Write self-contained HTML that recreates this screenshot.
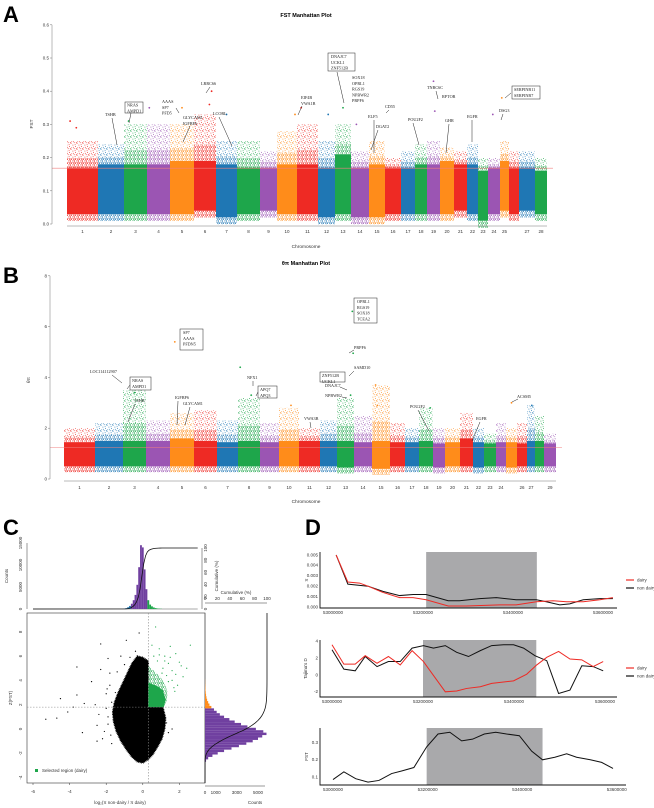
<!DOCTYPE html>
<html><head><meta charset="utf-8"><style>
html,body{margin:0;padding:0;background:#fff;}
svg{display:block;font-family:"Liberation Sans",sans-serif;}
.tk{font-size:4.5px;fill:#333;}
.an{font-family:"Liberation Serif",serif;font-size:4.2px;fill:#222;}
</style></head><body>
<svg id="fig" width="654" height="808" viewBox="0 0 654 808" xmlns="http://www.w3.org/2000/svg">
<defs id="defs"></defs>
<text x="3" y="22" font-size="22" font-weight="bold">A</text>
<text x="3" y="283" font-size="22" font-weight="bold">B</text>
<text x="3" y="535" font-size="22" font-weight="bold">C</text>
<text x="305" y="535" font-size="22" font-weight="bold">D</text>
<text x="306" y="17" font-size="5.5" font-weight="bold" text-anchor="middle">FST Manhattan Plot</text>
<text x="306" y="265" font-size="5.5" font-weight="bold" text-anchor="middle">θπ Manhattan Plot</text>
<text x="306" y="248" font-size="4.8" text-anchor="middle" fill="#333">Chromosome</text>
<text x="306" y="503" font-size="4.8" text-anchor="middle" fill="#333">Chromosome</text>
<text x="33" y="124" font-size="4.8" fill="#333" transform="rotate(-90 33 124)" text-anchor="middle">FST</text>
<text x="30" y="380" font-size="4.8" fill="#333" transform="rotate(-90 30 380)" text-anchor="middle">θπ</text>
</svg>
<script>
// ---------- Panel A / B data ----------
const chromLenA=[31,26,23,23,24,22,21,23,17,20,21,17,16,18,16,16,14,12,13,14,13,11,10,12,9,10,16,12];
const denseLoA=[0.03,0.03,0.03,0.03,0.03,0.04,0.02,0.03,0.04,0.03,0.03,0.02,0.03,0.02,0.02,0.03,0.03,0.03,0.03,0.03,0.04,0.03,0.01,0.03,0.04,0.03,0.04,0.03];
const denseHiA=[0.17,0.18,0.18,0.18,0.19,0.19,0.18,0.17,0.17,0.18,0.18,0.17,0.21,0.17,0.18,0.17,0.17,0.18,0.18,0.19,0.18,0.18,0.16,0.17,0.19,0.17,0.17,0.16];
const sparseMaxA=[0.25,0.24,0.30,0.30,0.30,0.33,0.25,0.25,0.22,0.28,0.30,0.25,0.30,0.22,0.25,0.20,0.22,0.24,0.25,0.23,0.22,0.24,0.20,0.20,0.25,0.22,0.22,0.20];
const outChrA=[1,1,3,4,5,6,6,10,11,13,14,19,19,25,24,12,7];
const outFracA=[0.1,0.3,0.2,0.1,0.5,0.7,0.8,0.9,0.2,0.5,0.3,0.5,0.6,0.2,0.4,0.6,0.5];
const outValA=[0.31,0.29,0.31,0.35,0.35,0.36,0.40,0.33,0.35,0.35,0.30,0.43,0.34,0.38,0.33,0.33,0.33];
const yTicksA=[0,0.1,0.2,0.3,0.4,0.5,0.6];
const yTickLabA=["0.0","0.1","0.2","0.3","0.4","0.5","0.6"];
const thresholdA=0.168;

const chromLenB=[31,28,23,24,24,23,21,22,19,20,21,17,17,18,18,15,14,14,12,15,13,11,12,10,11,10,8,9,12];
const denseLoB=[0.5,0.5,0.5,0.5,0.5,0.5,0.5,0.5,0.5,0.5,0.5,0.5,0.45,0.5,0.4,0.5,0.5,0.5,0.45,0.5,0.5,0.45,0.5,0.5,0.45,0.5,0.5,0.5,0.5];
const denseHiB=[1.45,1.5,1.5,1.5,1.6,1.5,1.45,1.5,1.45,1.5,1.5,1.5,1.5,1.45,1.5,1.45,1.45,1.5,1.4,1.45,1.6,1.45,1.4,1.45,1.45,1.4,1.5,1.5,1.4];
const sparseMaxB=[2.0,2.2,3.5,2.3,2.6,2.7,2.3,3.2,2.2,2.8,2.0,2.3,3.2,2.5,3.7,2.2,2.0,2.8,2.0,2.0,2.6,2.0,1.8,2.2,2.0,2.2,2.9,2.5,1.8];
const outChrB=[5,8,13,13,15,15,10,3,8,13,18,25,27];
const outFracB=[0.2,0.1,0.9,0.95,0.2,0.3,0.6,0.5,0.6,0.8,0.8,0.5,0.6];
const outValB=[5.4,4.4,6.6,4.95,3.7,2.9,2.9,3.4,3.3,3.3,2.8,3.0,2.9];
const yTicksB=[0,2,4,6,8];
const yTickLabB=["0","2","4","6","8"];
const thresholdB=1.25;

// ---------- Panel C data ----------
const histXCenters=[-1.0,-0.9,-0.8,-0.7,-0.6,-0.5,-0.4,-0.3,-0.2,-0.1,0.0,0.1,0.2,0.3,0.4,0.5,0.6,0.7,0.8,0.9,1.0];
const histXCounts=[100,200,400,700,1200,2000,3200,5500,9500,14500,14000,9000,4500,2000,1000,600,350,200,120,80,50];
const histYCenters=[-2.6,-2.4,-2.2,-2.0,-1.8,-1.6,-1.4,-1.2,-1.0,-0.8,-0.6,-0.4,-0.2,0.0,0.2,0.4,0.6,0.8,1.0,1.2,1.4,1.6,1.8,2.0,2.2,2.4,2.6,2.8,3.0,3.2,3.4,3.6,3.8,4.0];
const histYCounts=[100,300,700,1200,1800,2500,3200,3900,4500,5000,5400,5800,5500,4800,4000,3400,2800,2300,1800,1400,1100,850,600,420,300,200,140,100,70,50,35,25,15,10];
const blobX=[-0.3,0.0,0.3,0.3,1.1,1.25,1.2,1.05,0.8,0.55,0.3,0.0,-0.3,-0.6,-0.9,-1.2,-1.45,-1.6,-1.65,-1.55,-1.35,-1.1,-0.85,-0.6];
const blobY=[6.0,5.9,5.6,1.8,1.8,0.9,0.0,-0.8,-1.5,-2.1,-2.5,-2.8,-2.7,-2.3,-1.7,-1.0,-0.2,0.6,1.4,2.2,3.0,3.8,4.6,5.4];
const greenX=[0.3,1.15,1.3,1.35,1.2,0.95,0.6,0.3];
const greenY=[1.8,1.8,2.3,3.0,3.7,4.3,4.8,5.2];
const blackPtX=[-5.3,-4.7,-4.1,-3.6,-3.3,-2.5,-2.8,-2.3,-2.3,-1.8,-2,-1.5,-0.9,-3.8,-2.5,-3.2,-1.7,1.6,-4.5,-1.9,-0.2,-0.4,-1.2,-3.6,-2.1,-1.9,-1.7,-2.2,-1.8,-1.9,-2.0,-1.75,-1.0,-0.7,-1.4,1.3,1.4,-2.4,-2.6,-1.95];
const blackPtY=[0.8,0.9,1.4,5.1,-0.3,-1,3.9,7,4.9,4.6,2.9,3,7.3,1.8,0.3,2.1,-1.2,0,2.5,5.8,7.9,6.4,6,2.8,-0.2,1.0,2.2,-0.8,3.6,0.4,1.7,-0.5,5.3,5.9,4.7,0.5,-0.3,1.2,2.0,3.3];
const greenPtX=[0.7,2.0,1.8,1.5,2.6,1.4,1.8,1.2,0.9,1.1,1.6,0.5,2.2,1.3,1.7,1.0,1.5,1.9,0.8,1.4,2.1,1.6,1.2,0.9,0.6,1.75,2.4,1.05];
const greenPtY=[8.4,5.5,6.2,6.8,6.9,5.4,4.5,6.0,6.6,5.0,4.0,6.9,4.3,4.4,3.4,3.8,5.9,3.6,5.6,3.9,5.2,4.8,5.6,6.1,6.0,3.1,5.0,4.6];
const cutX=0.3, cutY=1.8;

// ---------- Panel D data ----------
const piNonPos=[53.007,53.033,53.078,53.111,53.148,53.178,53.207,53.256,53.281,53.326,53.363,53.407,53.452,53.474,53.504,53.526,53.556,53.593,53.622];
const piNonVal=[0.0050,0.0022,0.0020,0.0015,0.0011,0.0012,0.0012,0.0006,0.0006,0.0008,0.0009,0.0007,0.0007,0.0005,0.0002,0.0003,0.0007,0.0008,0.0008];
const piDairyPos=[53.007,53.033,53.059,53.078,53.111,53.148,53.178,53.207,53.256,53.296,53.370,53.407,53.452,53.489,53.519,53.556,53.593,53.622];
const piDairyVal=[0.0050,0.0024,0.0023,0.0020,0.0014,0.0009,0.0009,0.0007,0.0001,0.0001,0.0002,0.0002,0.0005,0.0006,0.0005,0.0005,0.0007,0.0009];
const piShade=[53.207,53.453];
const tdDairyPos=[53.0,53.026,53.051,53.073,53.099,53.124,53.150,53.176,53.201,53.249,53.274,53.296,53.326,53.351,53.399,53.428,53.450,53.472,53.498,53.523,53.549,53.574,53.596];
const tdDairyVal=[3.6,1.3,1.3,2.3,1.4,2.2,1.2,2.9,1.6,-2.0,-1.9,-1.6,-1.4,-1.0,-0.7,0.1,1.2,2.1,2.8,1.9,1.8,1.0,1.6];
const tdNonPos=[53.0,53.026,53.051,53.073,53.099,53.124,53.150,53.176,53.201,53.223,53.249,53.274,53.300,53.326,53.351,53.377,53.399,53.421,53.446,53.472,53.498,53.523,53.549,53.574,53.596];
const tdNonVal=[3.0,0.7,0.5,2.2,1.0,1.6,1.6,3.2,3.5,3.2,3.5,2.7,2.2,2.9,3.5,3.6,3.6,3.2,2.3,1.7,-2.2,-1.8,1.1,1.0,0.5];
const tdShade=[53.200,53.449];
const fstPos=[53.0,53.023,53.048,53.074,53.097,53.124,53.145,53.171,53.198,53.222,53.247,53.272,53.295,53.320,53.344,53.367,53.394,53.420,53.443,53.469,53.494,53.515,53.544,53.568,53.592];
const fstVal=[0.085,0.13,0.09,0.07,0.08,0.12,0.135,0.155,0.275,0.35,0.36,0.31,0.32,0.35,0.36,0.35,0.34,0.25,0.20,0.215,0.235,0.215,0.20,0.185,0.15];
const fstShade=[53.198,53.443];
const dXTicks=[53.0,53.2,53.4,53.6];
const dXTickLab=["53000000","53200000","53400000","53600000"];

const COLORS=["#ee2a24","#1f77b4","#1ea64b","#9b55b3","#ff8c1a"];
const NS="http://www.w3.org/2000/svg";
const svg=document.getElementById("fig");
const defs=document.getElementById("defs");
function mk(tag,a,p){const e=document.createElementNS(NS,tag);for(const k in a)e.setAttribute(k,a[k]);(p||svg).appendChild(e);return e;}
function tx(x,y,s,a,p){const t=mk("text",Object.assign({x:x,y:y},a||{}),p);t.textContent=s;return t;}

// speckle patterns (texture only)
const speck=[[0.5,0.7],[3.2,2.1],[1.8,4.3],[4.6,5.2],[2.7,0.3],[5.4,3.4],[0.9,2.9],[3.9,4.0]];
COLORS.forEach((c,i)=>{
  const pt=mk("pattern",{id:"spk"+i,width:6,height:6,patternUnits:"userSpaceOnUse"},defs);
  speck.forEach(s=>{mk("rect",{x:s[0],y:s[1],width:0.8,height:0.8,fill:c},pt);});
  const pd=mk("pattern",{id:"spd"+i,width:4,height:4,patternUnits:"userSpaceOnUse"},defs);
  speck.forEach(s=>{mk("rect",{x:s[0]*0.66,y:s[1]*0.66,width:0.9,height:0.9,fill:c},pd);});
});

function manhattan(o){
  const g=mk("g",{});
  
  
  const total=o.lens.reduce((a,b)=>a+b,0), k=(o.x1-o.x0)/total;
  const Y=v=>o.y0-v*o.ppu;
  const starts=[];let cx=o.x0;
  o.lens.forEach((L,i)=>{
    const w=L*k, col=COLORS[i%5];starts.push(cx);
    const mid=o.hi[i]+(o.max[i]-o.hi[i])*0.35;
    const s1=mk("rect",{x:cx,y:Y(o.max[i]),width:w,height:Y(mid)-Y(o.max[i]),fill:"url(#spk"+(i%5)+")"},g);
    
    
    const s2=mk("rect",{x:cx,y:Y(mid),width:w,height:Y(o.hi[i])-Y(mid),fill:"url(#spd"+(i%5)+")"},g);
    
    
    const d=mk("rect",{x:cx,y:Y(o.hi[i]),width:w,height:Y(o.lo[i])-Y(o.hi[i]),fill:col},g);
    
    
    const lw=mk("rect",{x:cx,y:Y(o.lo[i]),width:w,height:o.lowPad,fill:"url(#spd"+(i%5)+")"},g);
    
    
    if(o.hide.indexOf(i+1)<0){
      const l=tx(cx+w/2,o.labY,String(i+1),{"class":"tk","text-anchor":"middle"},g);
      
      
    }
    cx+=w;
  });
  o.oc.forEach((c,j)=>{
    const p=mk("circle",{cx:starts[c-1]+o.of[j]*o.lens[c-1]*k,cy:Y(o.ov[j]),r:0.9,fill:COLORS[(c-1)%5]},g);
    
    
  });
  const th=mk("line",{x1:o.ax,x2:o.x1+6,y1:Y(o.th),y2:Y(o.th),stroke:"#f08080","stroke-width":0.6},g);
  
  
  const ya=mk("line",{x1:o.ax,x2:o.ax,y1:Y(o.ticks[o.ticks.length-1]),y2:Y(0),stroke:"#777","stroke-width":0.5},g);
  
  
  o.ticks.forEach((t,j)=>{
    const tl=mk("line",{x1:o.ax-2,x2:o.ax,y1:Y(t),y2:Y(t),stroke:"#777","stroke-width":0.5},g);
    
    
    const lb=tx(o.ax-3,Y(t)+1.5,o.tlab[j],{"class":"tk","text-anchor":"end"},g);
    
    
  });
  const xa=mk("line",{x1:o.x0,x2:o.x1,y1:Y(0)+2,y2:Y(0)+2,stroke:"#777","stroke-width":0.5},g);
  
  
}
manhattan({name:"fst-manhattan",lens:chromLenA,lo:denseLoA,hi:denseHiA,max:sparseMaxA,oc:outChrA,of:outFracA,ov:outValA,x0:67,x1:547,ax:52,y0:224,ppu:332,lowPad:7,labY:233,hide:[26],ticks:yTicksA,tlab:yTickLabA,th:thresholdA});
manhattan({name:"pi-manhattan",lens:chromLenB,lo:denseLoB,hi:denseHiB,max:sparseMaxB,oc:outChrB,of:outFracB,ov:outValB,x0:64,x1:556,ax:50,y0:479,ppu:25.4,lowPad:6,labY:489,hide:[25,28],ticks:yTicksB,tlab:yTickLabB,th:thresholdB});

// annotations (layout only)
const annotA=[
 {t:["TSHB"],x:105,y:116,l:[112,118,117,145]},
 {t:["NRAS","AMPD1"],x:127,y:106.5,box:[125,102,18,11],l:[131,113,129,123]},
 {t:["AAAS","SP7","PFD5"],x:162,y:103,l:[176,108,179,113]},
 {t:["GLYCAM1","IGFBP6"],x:183,y:119,l:[190,126,183,142]},
 {t:["LRRC66"],x:201,y:85,l:[210,87,206,93]},
 {t:["LCORL"],x:213,y:115,l:[219,117,232,146]},
 {t:["EIF4B","VWA1B"],x:301,y:99,l:[302,106,298,115]},
 {t:["DNAJC7","UCKL1","ZNF512B"],x:331,y:58,box:[328,53,27,18],l:[337,72,344,103]},
 {t:["SOX18","OPRL1","RGS19","NPBWR2","PRPF6"],x:352,y:79},
 {t:["CD55"],x:385,y:108,l:[389,110,386,113]},
 {t:["ELF5"],x:368,y:118,l:[374,120,374,153]},
 {t:["DGAT2"],x:376,y:128,l:[378,130,371,150]},
 {t:["POU2F2"],x:408,y:121,l:[413,123,419,145]},
 {t:["TNRC6C"],x:427,y:89,l:[436,91,438,99]},
 {t:["RPTOR"],x:442,y:98},
 {t:["GHR"],x:445,y:122,l:[449,124,446,153]},
 {t:["EGFR"],x:467,y:118,l:[472,120,472,142]},
 {t:["SERPINB11","SERPINB7"],x:514,y:91,box:[512,86,28,13],l:[511,93,505,98]},
 {t:["DSG3"],x:499,y:112,l:[503,114,501,120]}
];
const annotB=[
 {t:["LOC114112907"],x:90,y:373,l:[112,375,122,383]},
 {t:["NRAS","AMPD1"],x:132,y:382,box:[130,377,21,13],l:[130,385,127,389]},
 {t:["TSHB"],x:134,y:402,l:[135,404,128,422]},
 {t:["SP7","AAAS","PFDN5"],x:183,y:334,box:[180,329,23,21]},
 {t:["IGFBP6"],x:175,y:399,l:[178,401,177,425]},
 {t:["GLYCAM1"],x:183,y:405,l:[190,407,185,425]},
 {t:["NFX1"],x:247,y:379,l:[253,381,253,386]},
 {t:["APQ7","APQ3"],x:260,y:391,box:[258,386,19,12],l:[258,392,256,396]},
 {t:["ZNF512B","UCKL1"],x:322,y:377,box:[320,372,25,10]},
 {t:["DNAJC7"],x:325,y:387,l:[340,387,347,390]},
 {t:["NPBWR2"],x:325,y:397,l:[342,397,347,398]},
 {t:["SAMD10"],x:354,y:369,l:[354,371,349,376]},
 {t:["PRPF6"],x:354,y:349,l:[354,350,349,353]},
 {t:["OPRL1","RGS19","SOX18","TCEA2"],x:357,y:303,box:[354,298,23,25]},
 {t:["VWA3B"],x:304,y:420,l:[310,422,311,428]},
 {t:["POU2F2"],x:410,y:408,l:[418,410,429,431]},
 {t:["EGFR"],x:476,y:420,l:[480,422,472,441]},
 {t:["ACSM5"],x:517,y:398,l:[518,399,512,402]}
];
function annotate(list){
  list.forEach(a=>{
    if(a.box){const b=mk("rect",{x:a.box[0],y:a.box[1],width:a.box[2],height:a.box[3],fill:"#fff",stroke:"#222","stroke-width":0.5});
      
      }
    a.t.forEach((s,j)=>{const t=tx(a.x,a.y+j*5.8,s,{"class":"an"});
      
      });
    if(a.l){const ln=mk("line",{x1:a.l[0],y1:a.l[1],x2:a.l[2],y2:a.l[3],stroke:"#222","stroke-width":0.5});
      
      }
  });
}
annotate(annotA);annotate(annotB);

// ---------- Panel C ----------
const cX=v=>33+(v+6)*18.3, cY=v=>729-v*12.15;
const topY=c=>609-c*66/15000, rightX=c=>205+c*10.6/1000;
const cBox=mk("rect",{x:27,y:613,width:178,height:170,fill:"none",stroke:"#333","stroke-width":0.6});


const blob=mk("polygon",{points:blobX.map((x,i)=>cX(x)+","+cY(blobY[i])).join(" "),fill:"#000",stroke:"#000","stroke-width":1.5,"stroke-dasharray":"0.8,0.8"});


const gblob=mk("polygon",{points:greenX.map((x,i)=>cX(x)+","+cY(greenY[i])).join(" "),fill:"url(#spd2)"});


const gcore=mk("polygon",{points:[[0.3,1.8],[1.15,1.8],[1.25,2.4],[1.1,3.2],[0.7,3.6],[0.3,3.8]].map(p=>cX(p[0])+","+cY(p[1])).join(" "),fill:"#1ea64b"});


blackPtX.forEach((x,i)=>{const p=mk("circle",{cx:cX(x),cy:cY(blackPtY[i]),r:0.6,fill:"#000"});
  
  });
greenPtX.forEach((x,i)=>{const p=mk("circle",{cx:cX(x),cy:cY(greenPtY[i]),r:0.6,fill:"#1ea64b"});
  
  });
const vd=mk("line",{x1:cX(cutX),x2:cX(cutX),y1:613,y2:783,stroke:"#888","stroke-width":0.6,"stroke-dasharray":"1.5,1.5"});


const hd=mk("line",{x1:27,x2:205,y1:cY(cutY),y2:cY(cutY),stroke:"#888","stroke-width":0.6,"stroke-dasharray":"1.5,1.5"});


[-6,-4,-2,0,2].forEach(v=>{const t=tx(cX(v),793,String(v),{"class":"tk","text-anchor":"middle"});
  
  
  const l=mk("line",{x1:cX(v),x2:cX(v),y1:783,y2:785,stroke:"#333","stroke-width":0.5});
  
  });
[-4,-2,0,2,4,6,8].forEach(v=>{const t=tx(22,cY(v),String(v),{"class":"tk","text-anchor":"middle",transform:"rotate(-90 22 "+cY(v)+")"});
  
  });
const cxl=tx(120,804,"log₂(π non-dairy / π dairy)",{"class":"tk","text-anchor":"middle"});


const cyl=tx(12,698,"Z(FST)",{"class":"tk","text-anchor":"middle",transform:"rotate(-90 12 698)"});


const lgs=mk("rect",{x:35,y:769,width:3,height:3,fill:"#1ea64b"});


const lgt=tx(42,772,"Selected region (dairy)",{"class":"tk"});


// top histogram
const bw=0.1*18.3;
const tb=mk("line",{x1:cX(-6),x2:cX(3),y1:609,y2:609,stroke:"#555","stroke-width":0.6});


histXCenters.forEach((c,i)=>{const col=c>=cutX?"#1ea64b":(c<=-0.7?"#1f77b4":"#7040a0");
  const r=mk("rect",{x:cX(c)-bw/2,y:topY(histXCounts[i]),width:bw,height:609-topY(histXCounts[i]),fill:col});
  
  });
const totX=histXCounts.reduce((a,b)=>a+b,0);let acc=0;
const cumTop=[[cX(-6),609]];
histXCenters.forEach((c,i)=>{acc+=histXCounts[i];cumTop.push([cX(c)+bw/2,609-61*acc/totX]);});
cumTop.push([cX(3),548]);
const ct=mk("polyline",{points:cumTop.map(p=>p.join(",")).join(" "),fill:"none",stroke:"#111","stroke-width":0.8});


const tya=mk("line",{x1:27,x2:27,y1:543,y2:609,stroke:"#333","stroke-width":0.5});


[0,5000,10000,15000].forEach(v=>{const t=tx(22,topY(v),String(v),{"class":"tk","text-anchor":"middle",transform:"rotate(-90 22 "+topY(v)+")"});
  
  });
const cnt=tx(8,576,"Counts",{"class":"tk","text-anchor":"middle",transform:"rotate(-90 8 576)"});


const tra=mk("line",{x1:202,x2:202,y1:548,y2:609,stroke:"#333","stroke-width":0.5});


[0,20,40,60,80,100].forEach(v=>{const y=609-61*v/100;const t=tx(207,y,String(v),{"class":"tk","text-anchor":"middle",transform:"rotate(-90 207 "+y+")"});
  
  });
const ctl=tx(218,576,"Cumulative (%)",{"class":"tk","text-anchor":"middle",transform:"rotate(-90 218 576)"});


// right histogram
const bh=0.2*12.15;
const rb=mk("line",{x1:205,x2:205,y1:613,y2:783,stroke:"#555","stroke-width":0.6});


histYCenters.forEach((c,i)=>{const col=c>=cutY?"#ff8c1a":"#7040a0";
  const r=mk("rect",{x:205,y:cY(c)-bh/2,width:rightX(histYCounts[i])-205,height:bh,fill:col});
  
  });
const totY=histYCounts.reduce((a,b)=>a+b,0);acc=0;
const cumR=[[205,783]];
histYCenters.forEach((c,i)=>{acc+=histYCounts[i];cumR.push([205+62*acc/totY,cY(c)-bh/2]);});
cumR.push([267,613]);
const cr=mk("polyline",{points:cumR.map(p=>p.join(",")).join(" "),fill:"none",stroke:"#111","stroke-width":0.8});


const rta=mk("line",{x1:205,x2:267,y1:603,y2:603,stroke:"#333","stroke-width":0.5});


[0,20,40,60,80,100].forEach(v=>{const x=205+62*v/100;const t=tx(x,600,String(v),{"class":"tk","text-anchor":"middle"});
  
  });
const rtl=tx(236,594,"Cumulative (%)",{"class":"tk","text-anchor":"middle"});


const rxa=mk("line",{x1:205,x2:265,y1:786,y2:786,stroke:"#333","stroke-width":0.5});


[0,1000,3000,5000].forEach(v=>{const t=tx(rightX(v),794,String(v),{"class":"tk","text-anchor":"middle"});
  
  });
const rcn=tx(255,804,"Counts",{"class":"tk","text-anchor":"middle"});



// ---------- Panel D ----------
function dplot(o){
  const g=mk("g",{});
  
  
  const X=p=>o.ox+(p-53)*o.kx, Y=v=>o.oy-(v-o.v0)*o.ky;
  const sh=mk("rect",{x:X(o.shade[0]),y:o.top,width:X(o.shade[1])-X(o.shade[0]),height:o.bot-o.top,fill:"#a9a9ab"},g);
  
  
  o.series.forEach(s=>{
    const pl=mk("polyline",{points:s.p.map((p,i)=>X(p)+","+Y(s.v[i])).join(" "),fill:"none",stroke:s.c,"stroke-width":1},g);
    
    
  });
  const ax=mk("path",{d:"M320 "+o.top+" V"+o.bot+" H"+o.right,fill:"none",stroke:"#111","stroke-width":0.9},g);
  
  
  dXTicks.forEach((t,i)=>{const l=tx(X(t),o.bot+6,dXTickLab[i],{"class":"tk","font-size":"3.6","text-anchor":"middle"},g);
    
    });
  o.yt.forEach((t,i)=>{const l=tx(318,Y(t)+1.3,o.ytl[i],{"class":"tk","font-size":"3.6","text-anchor":"end"},g);
    
    });
  const yl=tx(o.ylx,(o.top+o.bot)/2,o.ylab,{"class":"tk","text-anchor":"middle",transform:"rotate(-90 "+o.ylx+" "+(o.top+o.bot)/2+")"},g);
  
  
  if(o.leg){["dairy","non dairy"].forEach((n,i)=>{
    const ll=mk("line",{x1:626,x2:634,y1:o.leg+i*8,y2:o.leg+i*8,stroke:i?"#111":"#ee2a24","stroke-width":1.2},g);
    
    
    const lt=tx(637,o.leg+i*8+1.3,n,{"class":"tk","font-size":"3.8"},g);
    
    });}
}
dplot({name:"pi-line-chart",ox:333,kx:450,oy:607,v0:0,ky:10400,top:552,bot:608,right:617,shade:piShade,
  series:[{name:"pi-non-dairy-line",p:piNonPos,v:piNonVal,c:"#111"},{name:"pi-dairy-line",p:piDairyPos,v:piDairyVal,c:"#ee2a24"}],
  yt:[0,0.001,0.002,0.003,0.004,0.005],ytl:["0.000","0.001","0.002","0.003","0.004","0.005"],ylab:"π",ylx:308,leg:580});
dplot({name:"tajima-d-line-chart",ox:332,kx:455,oy:675,v0:0,ky:8.4,top:640,bot:697,right:617,shade:tdShade,
  series:[{name:"tajima-non-dairy-line",p:tdNonPos,v:tdNonVal,c:"#111"},{name:"tajima-dairy-line",p:tdDairyPos,v:tdDairyVal,c:"#ee2a24"}],
  yt:[-2,0,2,4],ytl:["-2","0","2","4"],ylab:"Tajima's D",ylx:307,leg:668});
dplot({name:"fst-line-chart",ox:333,kx:473,oy:777,v0:0.1,ky:172,top:728,bot:785,right:626,shade:fstShade,
  series:[{name:"fst-line",p:fstPos,v:fstVal,c:"#111"}],
  yt:[0.1,0.2,0.3],ytl:["0.1","0.2","0.3"],ylab:"FST",ylx:308});
</script>
</body></html>
